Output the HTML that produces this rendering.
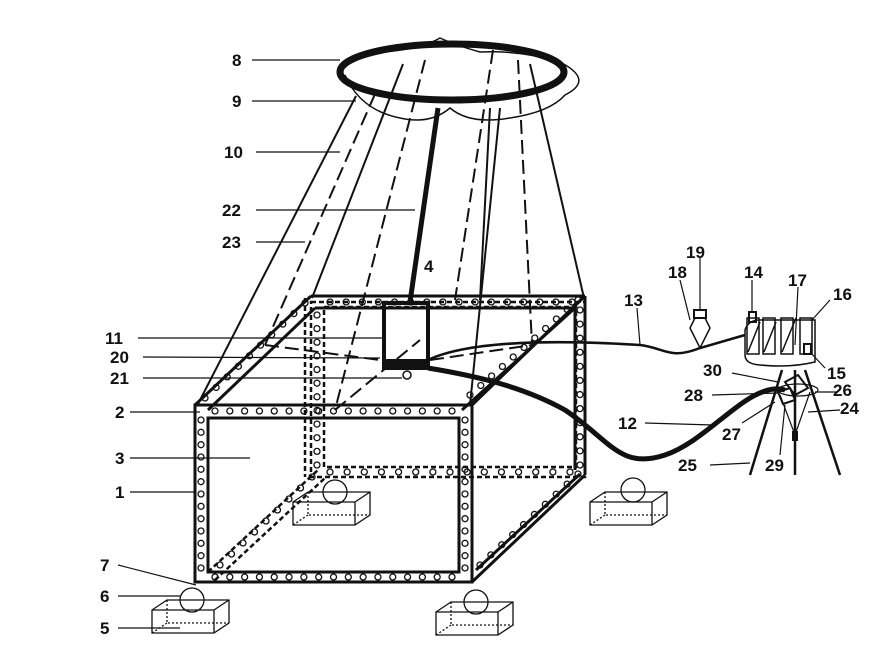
<!DOCTYPE html>
<html><head><meta charset="utf-8"><style>
html,body{margin:0;padding:0;background:#fff}
svg text{font-family:"Liberation Sans",Arial,sans-serif;font-weight:bold;font-size:17px;fill:#111}
</style></head><body>
<svg id="s" width="884" height="666" viewBox="0 0 884 666" xmlns="http://www.w3.org/2000/svg" fill="none" stroke="#111" stroke-width="2">
<!-- net 9 -->
<path d="M345,75 Q360,110 400,118 Q430,125 450,108 Q470,125 510,118 Q550,112 565,95 Q595,80 560,62 Q520,50 480,52 Q455,45 440,38 Q420,50 380,52" stroke-width="1.5"/>
<!-- ring 8 -->
<ellipse cx="452" cy="72" rx="112" ry="28" stroke-width="7"/>
<!-- ropes -->
<g stroke-width="2">
<line x1="356" y1="96" x2="198" y2="404"/>
<line x1="403" y1="64" x2="312" y2="298"/>
<line x1="500" y1="108" x2="470" y2="405"/>
<line x1="530" y1="64" x2="584" y2="298"/>
<line x1="490" y1="108" x2="480" y2="300" />
</g>
<g stroke-width="2" stroke-dasharray="14,6">
<line x1="375" y1="94" x2="265" y2="345"/>
<line x1="425" y1="60" x2="335" y2="410"/>
<line x1="493" y1="50" x2="455" y2="300"/>
<line x1="518" y1="60" x2="532" y2="345"/>
<line x1="265" y1="345" x2="380" y2="360"/>
<line x1="430" y1="360" x2="532" y2="345"/>
<line x1="335" y1="410" x2="420" y2="340"/>
</g>
<!-- rod 22 -->
<line x1="438" y1="108" x2="410" y2="302" stroke-width="5"/>
<!-- hidden back frame -->
<g stroke-width="2.5" stroke-dasharray="5,3">
<rect x="311" y="302" width="274" height="175"/>
<rect x="324" y="307" width="252" height="160"/>
<line x1="305" y1="298" x2="305" y2="477"/>
<line x1="208" y1="572" x2="318" y2="470"/>
<line x1="215" y1="580" x2="325" y2="478"/>
</g>
<!-- box faces -->
<g stroke-width="3">
<rect x="195" y="405" width="277" height="177"/>
<rect x="208" y="418" width="251" height="154"/>
<line x1="195" y1="405" x2="311" y2="296"/>
<line x1="208" y1="410" x2="315" y2="308"/>
<line x1="311" y1="296" x2="585" y2="296"/>
<line x1="315" y1="308" x2="575" y2="308"/>
<line x1="472" y1="405" x2="585" y2="296"/>
<line x1="462" y1="410" x2="575" y2="308"/>
<line x1="472" y1="582" x2="585" y2="475"/>
<line x1="476" y1="570" x2="580" y2="474"/>
<line x1="585" y1="296" x2="585" y2="475"/>
<line x1="575" y1="308" x2="575" y2="470"/>
</g>
<g id="dots" stroke-width="1.3"></g>
<!-- box 4 -->
<rect x="384" y="303" width="44" height="65" stroke-width="4"/>
<rect x="384" y="360" width="44" height="8" fill="#111"/>
<circle cx="407" cy="375" r="4" stroke-width="1.5"/>
<!-- hoses -->
<path d="M428,368 C470,375 520,385 565,410 C610,440 620,470 665,455 C710,440 750,380 785,390" stroke-width="5"/>
<path d="M428,360 C470,340 560,340 640,345 C665,348 670,360 700,348 L745,335" stroke-width="2.5"/>
<!-- 18/19 -->
<path d="M690,328 L695,318 L705,318 L710,328 L700,348 Z" stroke-width="1.5"/>
<rect x="694" y="310" width="12" height="8" stroke-width="2"/>
<!-- container 16 -->
<path d="M745,330 Q748,320 760,320 L815,320 L815,362 Q790,368 760,365 Q745,364 745,355 Z" stroke-width="1.5"/>
<g stroke-width="1.5">
<rect x="747" y="318" width="12" height="36"/><rect x="763" y="318" width="12" height="36"/><rect x="781" y="318" width="12" height="36"/><rect x="800" y="318" width="12" height="36"/>
<line x1="748" y1="352" x2="760" y2="322"/><line x1="764" y1="352" x2="776" y2="322"/><line x1="782" y1="352" x2="796" y2="318"/>
</g>
<rect x="749" y="312" width="7" height="10" stroke-width="2"/>
<rect x="804" y="344" width="7" height="10" stroke-width="2"/>
<!-- tripod -->
<g stroke-width="2.5">
<line x1="782" y1="370" x2="750" y2="475"/>
<line x1="795" y1="370" x2="795" y2="475"/>
<line x1="805" y1="370" x2="840" y2="475"/>
</g>
<path d="M785,382 L798,375 L808,388 L795,395 Z" stroke-width="2"/>
<path d="M778,392 L790,388 L795,400 L783,404 Z" stroke-width="2"/>
<ellipse cx="798" cy="390" rx="20" ry="6" stroke-width="1.2"/>
<path d="M780,395 L795,435 L810,392" stroke-width="1.2"/>
<rect x="793" y="432" width="4" height="8" fill="#111"/>
<!-- feet -->
<g stroke-width="1.3">
<g id="feet"></g>
</g>
<!-- leaders -->
<g stroke-width="1.2">
<line x1="252" y1="60" x2="340" y2="60"/><line x1="252" y1="101" x2="356" y2="101"/>
<line x1="256" y1="152" x2="340" y2="152"/><line x1="256" y1="210" x2="415" y2="210"/>
<line x1="256" y1="242" x2="305" y2="242"/><line x1="138" y1="338" x2="385" y2="338"/>
<line x1="143" y1="357" x2="380" y2="358"/><line x1="143" y1="378" x2="402" y2="378"/>
<line x1="130" y1="412" x2="200" y2="412"/><line x1="130" y1="458" x2="250" y2="458"/>
<line x1="130" y1="492" x2="195" y2="492"/><line x1="118" y1="565" x2="196" y2="585"/>
<line x1="118" y1="596" x2="180" y2="596"/><line x1="118" y1="628" x2="180" y2="628"/>
<line x1="637" y1="308" x2="640" y2="345"/><line x1="680" y1="280" x2="690" y2="320"/>
<line x1="700" y1="258" x2="700" y2="310"/><line x1="752" y1="280" x2="752" y2="312"/>
<line x1="798" y1="287" x2="795" y2="345"/><line x1="830" y1="300" x2="812" y2="320"/>
<line x1="825" y1="368" x2="810" y2="352"/><line x1="732" y1="373" x2="778" y2="382"/>
<line x1="712" y1="395" x2="778" y2="393"/><line x1="838" y1="392" x2="815" y2="392"/>
<line x1="840" y1="410" x2="808" y2="412"/><line x1="645" y1="423" x2="713" y2="425"/>
<line x1="742" y1="423" x2="775" y2="402"/><line x1="780" y1="455" x2="785" y2="405"/>
<line x1="710" y1="465" x2="750" y2="463"/>
</g>
<g stroke="none">
<text x="232" y="66">8</text><text x="232" y="107">9</text><text x="224" y="158">10</text>
<text x="222" y="216">22</text><text x="222" y="248">23</text><text x="105" y="344">11</text>
<text x="110" y="363">20</text><text x="110" y="384">21</text><text x="115" y="418">2</text>
<text x="115" y="464">3</text><text x="115" y="498">1</text><text x="100" y="571">7</text>
<text x="100" y="602">6</text><text x="100" y="634">5</text><text x="424" y="272">4</text>
<text x="624" y="306">13</text><text x="668" y="278">18</text><text x="686" y="258">19</text>
<text x="744" y="278">14</text><text x="788" y="286">17</text><text x="833" y="300">16</text>
<text x="827" y="379">15</text><text x="703" y="376">30</text><text x="833" y="396">26</text>
<text x="684" y="401">28</text><text x="840" y="414">24</text><text x="618" y="429">12</text>
<text x="722" y="440">27</text><text x="765" y="471">29</text><text x="678" y="471">25</text>
</g>
</svg>
<script>
var NS="http://www.w3.org/2000/svg",d=document.getElementById('dots');
function c(x,y){var e=document.createElementNS(NS,'circle');e.setAttribute('cx',x);e.setAttribute('cy',y);e.setAttribute('r',3);d.appendChild(e);}
function row(x1,y1,x2,y2,n){for(var i=0;i<=n;i++)c(x1+(x2-x1)*i/n,y1+(y2-y1)*i/n);}
row(215,411,452,411,16);row(215,577,452,577,16);
row(201,420,201,568,12);row(465,420,465,568,12);
row(205,398,305,303,9);row(470,395,578,300,10);row(480,565,578,474,9);
row(330,302,572,302,15);row(580,310,580,465,11);
row(317,315,317,465,11);row(330,472,570,472,14);row(220,565,312,477,8);
var f=document.getElementById('feet');
function foot(cx,cy,bx,by){f.innerHTML+='<circle cx="'+cx+'" cy="'+cy+'" r="12"/>'+
'<path d="M'+bx+','+(by+10)+' l15,-10 h62 v23 l-15,10 h-62 z M'+bx+','+(by+10)+' h62 l15,-10 M'+(bx+62)+','+(by+10)+' v23"/>'+
'<path d="M'+(bx+15)+','+by+' v23 h62 M'+(bx+15)+','+(by+23)+' l-15,10" stroke-dasharray="2,2"/>';}
foot(192,600,152,600);foot(476,602,436,602);foot(633,490,590,492);foot(335,492,293,492);
</script>
</body></html>
